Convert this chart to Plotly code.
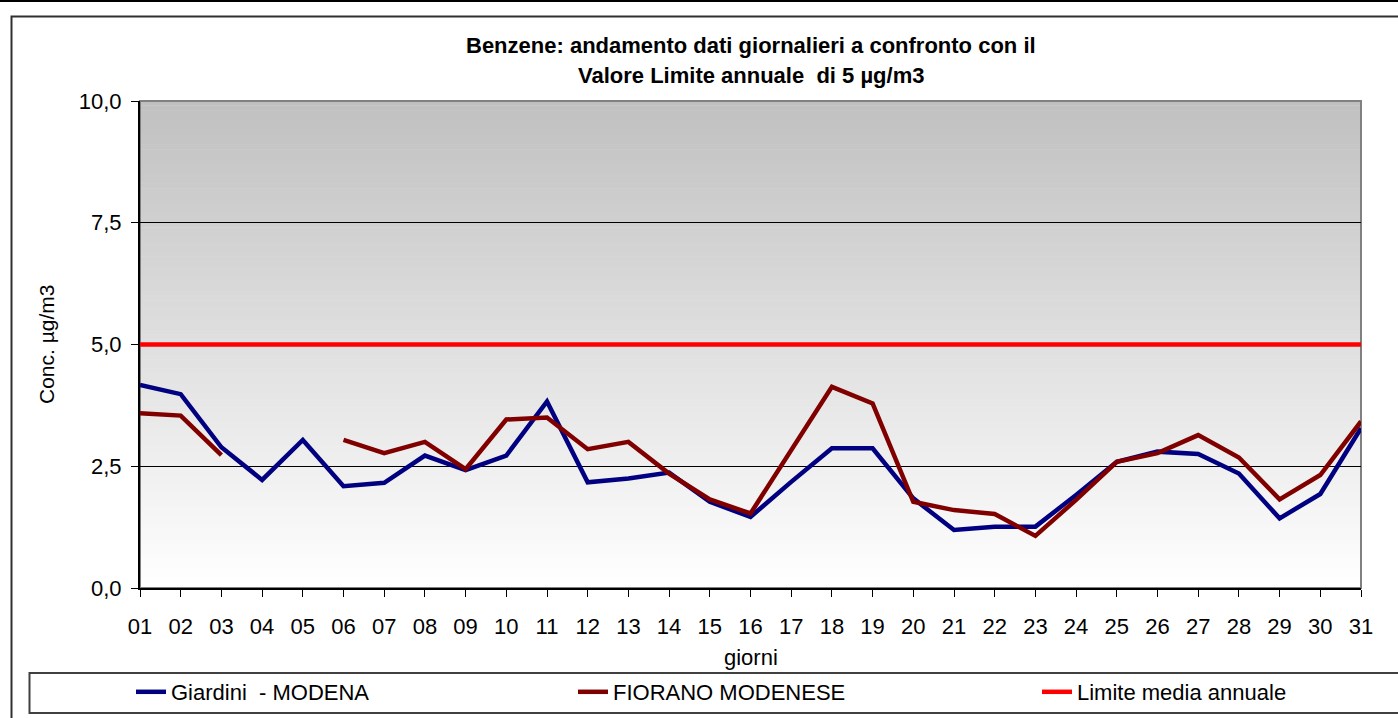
import plotly.graph_objects as go

# --- dati ---
giorni = [f"{d:02d}" for d in range(1, 32)]

giardini_modena = [4.17, 3.98, 2.89, 2.22, 3.04, 2.09, 2.16, 2.72, 2.42, 2.72,
                   3.83, 2.17, 2.25, 2.37, 1.77, 1.46, 2.18, 2.87, 2.87, 1.84,
                   1.19, 1.26, 1.26, 1.91, 2.59, 2.80, 2.75, 2.35, 1.43, 1.93, 3.28]

fiorano_modenese = [3.59, 3.54, 2.73, None, None, 3.04, 2.77, 3.00, 2.44, 3.46,
                    3.50, 2.85, 3.00, 2.35, 1.82, 1.53, 2.83, 4.13, 3.79, 1.77,
                    1.60, 1.52, 1.07, 1.81, 2.59, 2.77, 3.14, 2.68, 1.82, 2.32, 3.42]

limite_annuale = [5.0] * 31

y_ticks = [0, 2.5, 5.0, 7.5, 10.0]

# --- geometria (pixel) ---
W, H = 1398, 718
PL, PR, PT, PB = 140, 1361, 101, 588


def px_x(x):
    return (x - PL) / (PR - PL)


def px_y(y):
    return (PB - y) / (PB - PT)


FONT = "Liberation Sans, Arial, sans-serif"
x_num = list(range(1, 32))

fig = go.Figure()
fig.add_trace(go.Scatter(x=x_num, y=giardini_modena, mode="lines", name="Giardini  - MODENA",
                         line=dict(color="#000080", width=4.5), legend="legend"))
fig.add_trace(go.Scatter(x=x_num, y=fiorano_modenese, mode="lines", name="FIORANO MODENESE",
                         line=dict(color="#800000", width=4.5), connectgaps=False, legend="legend2"))
fig.add_trace(go.Scatter(x=x_num, y=limite_annuale, mode="lines", name="Limite media annuale",
                         line=dict(color="#FF0000", width=4.5), legend="legend3"))

shapes = []
# sfondo sfumato grigio -> bianco
n = 100
for i in range(n):
    t = i / n
    c = int(round(192 + 63 * (1 - (i + 0.5) / n)))
    shapes.append(dict(type="rect", xref="x domain", yref="y domain", x0=0, x1=1,
                       y0=t, y1=t + 1 / n + 0.001, line_width=0,
                       fillcolor=f"rgb({c},{c},{c})", layer="below"))
# bordo area grafico
shapes.append(dict(type="rect", xref="x domain", yref="y domain", x0=0, x1=1, y0=0, y1=1,
                   line=dict(color="#808080", width=2), layer="below"))
# cornici esterne
shapes.append(dict(type="line", xref="paper", yref="paper", x0=px_x(0), x1=px_x(W),
                   y0=px_y(1), y1=px_y(1), line=dict(color="black", width=2)))
shapes.append(dict(type="rect", xref="paper", yref="paper", x0=px_x(11.5), x1=px_x(W + 10),
                   y0=px_y(H + 10), y1=px_y(16.5), line=dict(color="#303030", width=2)))
shapes.append(dict(type="rect", xref="paper", yref="paper", x0=px_x(29.5), x1=px_x(W + 10),
                   y0=px_y(713), y1=px_y(673), line=dict(color="#404040", width=2)))

annotations = [
    dict(text="<b>Benzene: andamento dati giornalieri a confronto con il</b>", x=0.5, y=px_y(45),
         xref="paper", yref="paper", showarrow=False, yanchor="middle",
         font=dict(family=FONT, size=22, color="black")),
    dict(text="<b>Valore Limite annuale  di 5 µg/m3</b>", x=0.5, y=px_y(76),
         xref="paper", yref="paper", showarrow=False, yanchor="middle",
         font=dict(family=FONT, size=22, color="black")),
    dict(text="giorni", x=0.5, y=px_y(657), xref="paper", yref="paper", showarrow=False,
         yanchor="middle", font=dict(family=FONT, size=22, color="black")),
    dict(text="Conc. µg/m3", x=px_x(46), y=px_y(345), xref="paper", yref="paper",
         showarrow=False, textangle=-90, xanchor="center", yanchor="middle",
         font=dict(family=FONT, size=21, color="black")),
]


def legenda(x_px):
    return dict(orientation="h", x=px_x(x_px), y=px_y(692), xanchor="left", yanchor="middle",
                bgcolor="rgba(0,0,0,0)", borderwidth=0,
                font=dict(family=FONT, size=22, color="black"))


fig.update_layout(
    width=W, height=H,
    margin=dict(l=PL, r=W - PR, t=PT, b=H - PB, autoexpand=False),
    paper_bgcolor="white", plot_bgcolor="white",
    separators=",.",
    font=dict(family=FONT, size=22, color="black"),
    shapes=shapes, annotations=annotations,
    showlegend=True,
    legend=legenda(131),
    legend2=legenda(573),
    legend3=legenda(1037),
)
fig.update_xaxes(range=[1, 31], tickvals=x_num, ticktext=giorni, showgrid=False,
                 showline=True, linecolor="black", linewidth=2, ticks="outside", ticklen=7,
                 tickcolor="black", ticklabelstandoff=11, zeroline=False)
fig.update_yaxes(range=[0, 10], tickvals=y_ticks, tickformat=".1f", showgrid=True,
                 gridcolor="black", gridwidth=1, showline=True, linecolor="black", linewidth=2,
                 ticks="outside", ticklen=7, tickcolor="black", ticklabelstandoff=5,
                 zeroline=False)

fig.write_html("out.html", config={"displayModeBar": False},
               post_script="document.body.style.margin='0';")
